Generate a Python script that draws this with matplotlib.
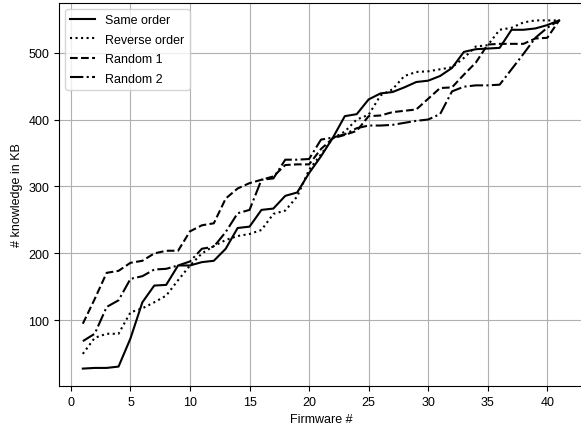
import matplotlib
matplotlib.use("Agg")
import matplotlib.pyplot as plt

plt.rcParams['font.family'] = ['Liberation Sans', 'DejaVu Sans']
plt.rcParams['font.size'] = 9

# firmware index
firmware = list(range(1, 42))

# knowledge size (KB) per ordering
same_order = [28, 29, 29, 31, 73, 127, 152, 153, 182, 182,
              187, 189, 207, 238, 240, 265, 267, 286, 291, 320,
              345, 373, 405, 408, 430, 439, 441, 448, 456, 458,
              465, 477, 501, 505, 506, 507, 534, 534, 536, 541,
              548]
reverse_order = [50, 74, 80, 80, 112, 118, 127, 137, 160, 182,
                 200, 211, 220, 226, 229, 235, 259, 264, 285, 325,
                 348, 372, 382, 400, 407, 436, 445, 465, 471, 472,
                 475, 478, 492, 509, 511, 534, 537, 545, 548, 548,
                 548]
random_1 = [95, 132, 171, 174, 186, 189, 200, 204, 204, 233,
            242, 245, 282, 297, 305, 310, 315, 332, 333, 333,
            356, 372, 377, 383, 405, 406, 411, 413, 415, 431,
            447, 448, 467, 485, 512, 513, 513, 513, 521, 522,
            548]
random_2 = [69, 80, 120, 130, 162, 166, 176, 177, 182, 188,
            207, 210, 232, 260, 265, 310, 312, 340, 340, 341,
            370, 373, 378, 387, 391, 391, 392, 395, 398, 400,
            408, 442, 449, 451, 451, 452, 475, 498, 522, 537,
            548]

fig = plt.figure(figsize=(5.81, 4.27), dpi=100)
ax = fig.add_axes([59 / 581, 40 / 427, 524 / 581, 383 / 427])

ax.plot(firmware, same_order, color="black", linestyle="-", linewidth=1.5, label="Same order")
ax.plot(firmware, reverse_order, color="black", linestyle=":", linewidth=1.5, label="Reverse order")
ax.plot(firmware, random_1, color="black", linestyle="--", linewidth=1.5, label="Random 1")
ax.plot(firmware, random_2, color="black", linestyle="-.", linewidth=1.5, label="Random 2")

ax.set_xlim(-1, 43)
ax.set_xticks([0, 5, 10, 15, 20, 25, 30, 35, 40])
ax.set_yticks([100, 200, 300, 400, 500])
ax.grid(True, color="#b0b0b0", linewidth=0.8)
ax.set_axisbelow(True)
ax.spines["right"].set_visible(False)

ax.set_xlabel("Firmware #")
ax.set_ylabel("# knowledge in KB")
ax.legend(loc="upper left", labelspacing=0.6)

fig.savefig("out.png", dpi=100)
